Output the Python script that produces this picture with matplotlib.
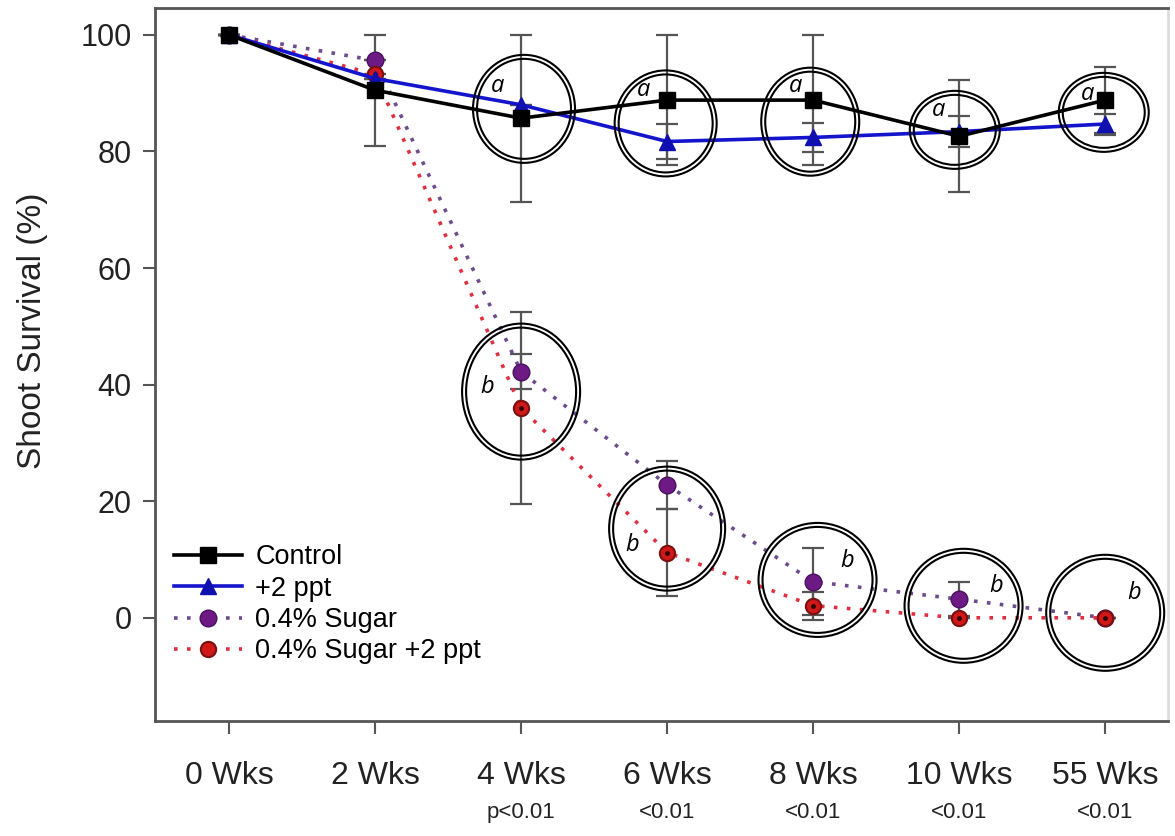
import matplotlib
matplotlib.use("Agg")
import matplotlib.pyplot as plt
from matplotlib.patches import Ellipse
import numpy as np

plt.rcParams['font.family'] = ['Liberation Sans', 'DejaVu Sans']

# --------------------------
# DATA
# --------------------------
weeks = ["0 Wks", "2 Wks", "4 Wks", "6 Wks", "8 Wks", "10 Wks", "55 Wks"]
p_labels = ["", "", "p<0.01", "<0.01", "<0.01", "<0.01", "<0.01"]

control = [100, 90.5, 85.7, 88.8, 88.8, 82.6, 88.8]
control_err = [0, 9.5, 14.3, 11.2, 11.2, 9.6, 5.7]

ppt = [100, 92.5, 88.0, 81.7, 82.4, 83.4, 84.7]
ppt_err = [0, 0, 0, 3.0, 2.5, 2.7, 1.8]

sugar = [100, 95.6, 42.2, 22.8, 6.2, 3.2, 0]
sugar_err = [0, 0, 3.0, 4.1, 5.8, 2.9, 0]

sugar_ppt = [100, 93.2, 36.0, 11.2, 2.1, 0, 0]
sugar_ppt_err = [0, 0, 16.5, 7.4, 2.4, 0, 0]

# significance groups: letter x/y, ellipse centre x/y, semi-axes (px)
groups_a = [(1.84, 91.3, 2.02, 87.3, 51, 54),
            (2.84, 90.6, 2.99, 84.8, 51, 53),
            (3.88, 91.3, 3.98, 85.1, 49, 54),
            (4.86, 87.1, 4.97, 83.7, 45, 39),
            (5.88, 89.9, 5.99, 86.7, 45, 39.5)]
groups_b = [(1.77, 39.6, 2.00, 38.8, 59, 68),
            (2.76, 12.5, 3.00, 15.3, 58, 62),
            (4.23, 9.8, 4.03, 6.5, 59, 57),
            (5.25, 5.5, 5.03, 2.06, 59, 57),
            (6.20, 4.3, 6.00, 0.86, 59, 58)]

x = np.arange(len(weeks))

fig = plt.figure(figsize=(11.75, 8.36), dpi=100)
ax = fig.add_axes([155 / 1175, 1 - 721 / 836, 1013 / 1175, 713 / 836])
ax.set_xlim(-0.507, 6.43)
ax.set_ylim(-17.7, 104.6)

px_x = 1013 / (6.43 + 0.507)
px_y = 713 / (104.6 + 17.7)

# error bars first (grey, behind everything)
err_kw = dict(fmt='none', ecolor='#555555', elinewidth=1.6, capsize=8, capthick=1.6, zorder=2)
ax.errorbar(x, control, yerr=control_err, **err_kw)
ax.errorbar(x, ppt, yerr=ppt_err, **err_kw)
ax.errorbar(x, sugar, yerr=sugar_err, **err_kw)
ax.errorbar(x, sugar_ppt, yerr=sugar_ppt_err, **err_kw)

# lines
ax.plot(x, sugar, linestyle=(0, (1, 2.6)), linewidth=2.6, color='#6c4c8c',
        marker='o', markersize=12, markerfacecolor='#6e1a85', markeredgecolor='#4a1060',
        label='0.4% Sugar', zorder=3)
ax.plot(x, sugar_ppt, linestyle=(0, (1, 2.6)), linewidth=2.6, color='#e03040',
        marker='o', markersize=11, markerfacecolor='#d01818', markeredgecolor='#7a1010',
        markeredgewidth=1.5, label='0.4% Sugar +2 ppt', zorder=4)
ax.plot(x, sugar_ppt, linestyle='none', marker='o', markersize=2.5, color='#300000', zorder=5)
ax.plot(x, ppt, color='#1414cc', linewidth=2.6, marker='^', markersize=11,
        markerfacecolor='#1010b0', markeredgecolor='#1010b0', label='+2 ppt', zorder=6)
ax.plot(x, control, color='black', linewidth=2.6, marker='s', markersize=11,
        label='Control', zorder=7)

# circled groups
for lx, ly, cx, cy, sw, sh in groups_a + groups_b:
    for shrink in (0, 4):
        ax.add_patch(Ellipse((cx, cy), 2 * (sw - shrink) / px_x, 2 * (sh - shrink) / px_y,
                             fill=False, edgecolor='black', linewidth=1.5, zorder=8))
for lx, ly, *_ in groups_a:
    ax.text(lx, ly, 'a', fontsize=17, style='italic', family='Open Sans',
            ha='center', va='center', zorder=9)
for lx, ly, *_ in groups_b:
    ax.text(lx, ly, 'b', fontsize=17, style='italic', family='Open Sans',
            ha='center', va='center', zorder=9)

# axes styling
for side in ['left', 'bottom', 'top', 'right']:
    ax.spines[side].set_color('#555555')
    ax.spines[side].set_linewidth(2)
ax.spines['right'].set_color('#dddddd')

ax.set_yticks([0, 20, 40, 60, 80, 100])
ax.set_xticks(x)
ax.set_xticklabels(weeks)
ax.tick_params(axis='both', direction='out', length=9, width=1.5, color='#555555',
               labelcolor='#222222')
ax.tick_params(axis='y', labelsize=22, pad=8)
ax.tick_params(axis='x', labelsize=23, pad=20)
ax.set_ylabel('Shoot Survival (%)', fontsize=24, color='#222222')
ax.yaxis.set_label_coords(-0.106, 0.548)

# p-values under tick labels
for xi, lab in zip(x, p_labels):
    ax.text(xi, -0.128, lab, transform=ax.get_xaxis_transform(), fontsize=16,
            ha='center', va='center', color='#222222')

# legend
h, l = ax.get_legend_handles_labels()
order = [3, 2, 0, 1]
ax.legend([h[i] for i in order], [l[i] for i in order], loc='upper left',
          bbox_to_anchor=(0.019, 0.248), frameon=False, fontsize=19.5,
          handlelength=2.5, handletextpad=0.5, labelspacing=0.2, borderaxespad=0,
          borderpad=0)

fig.savefig('out.png', dpi=100)
